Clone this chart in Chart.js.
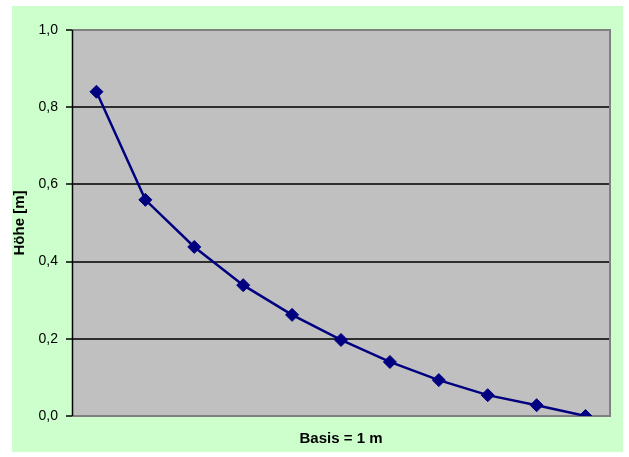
<!DOCTYPE html>
<html>
<head>
<meta charset="utf-8">
<script src="https://cdn.jsdelivr.net/npm/chart.js@4"></script>
<style>
  html, body { margin: 0; padding: 0; background: #ffffff; }
  #wrap { position: relative; width: 629px; height: 457px; }
</style>
</head>
<body>
<div id="wrap"><canvas id="chart" width="629" height="457"></canvas></div>
<script>
// data
const categories = ['', '', '', '', '', '', '', '', '', '', ''];
const heights = [0.84, 0.56, 0.438, 0.339, 0.262, 0.197, 0.14, 0.093, 0.054, 0.028, 0.0];
const yTicks = [0, 0.2, 0.4, 0.6, 0.8, 1.0];

const yTitle = 'Höhe [m]';
const xTitle = 'Basis = 1 m';

// green panel + gray plot area + gray frame
const backdrop = {
    id: 'backdrop',
    beforeDraw(chart) {
        const c = chart.ctx;
        const a = chart.chartArea;
        c.save();
        c.fillStyle = '#ffffff';
        c.fillRect(0, 0, chart.width, chart.height);
        c.fillStyle = '#ccffcc';
        c.fillRect(12, 6, 611, 446);
        c.fillStyle = '#c0c0c0';
        c.fillRect(a.left, a.top, a.right - a.left, a.bottom - a.top);
        c.restore();
    },
    beforeDatasetsDraw(chart) {
        const c = chart.ctx;
        const a = chart.chartArea;
        c.save();
        c.strokeStyle = '#808080';
        c.lineWidth = 2;
        c.beginPath();
        c.moveTo(a.left, a.top);
        c.lineTo(a.right, a.top);
        c.lineTo(a.right, a.bottom);
        c.lineTo(a.left, a.bottom);
        c.stroke();
        c.strokeStyle = '#000000';
        c.lineWidth = 1.5;
        c.beginPath();
        c.moveTo(a.left + 0.5, a.top);
        c.lineTo(a.left + 0.5, a.bottom);
        c.stroke();
        c.restore();
    }
};

const ctx = document.getElementById('chart').getContext('2d');

new Chart(ctx, {
    type: 'line',
    data: {
        labels: categories,
        datasets: [{
            label: 'Höhe',
            data: heights,
            borderColor: '#000080',
            backgroundColor: '#000080',
            borderWidth: 2.5,
            pointStyle: 'rectRot',
            pointRadius: 6.5,
            pointBorderWidth: 1,
            pointBackgroundColor: '#000080',
            pointBorderColor: '#000080',
            tension: 0
        }]
    },
    options: {
        responsive: false,
        animation: false,
        layout: { padding: { left: 0, top: 30, right: 19, bottom: 0 } },
        plugins: {
            legend: { display: false },
            tooltip: { enabled: false }
        },
        scales: {
            x: {
                offset: true,
                grid: { display: false },
                border: { display: false },
                ticks: { display: false },
                title: {
                    display: true,
                    text: xTitle,
                    color: '#000000',
                    font: { family: 'Liberation Sans', size: 15, weight: 'bold' },
                    padding: { top: 0, bottom: 9 }
                },
                afterFit(scale) { scale.width; scale.height = 41; }
            },
            y: {
                min: 0,
                max: 1,
                afterBuildTicks(scale) {
                    scale.ticks = yTicks.map(v => ({ value: v }));
                },
                ticks: {
                    color: '#000000',
                    padding: 8,
                    font: { family: 'Liberation Sans', size: 14 },
                    callback: v => v.toFixed(1).replace('.', ',')
                },
                grid: {
                    color: '#2e2e2e',
                    lineWidth: 2,
                    tickLength: 6,
                    tickColor: '#000000',
                    tickWidth: 1.5
                },
                border: { display: false },
                title: {
                    display: true,
                    text: yTitle,
                    color: '#000000',
                    font: { family: 'Liberation Sans', size: 15, weight: 'bold' },
                    padding: { top: 11, bottom: 0 }
                },
                afterFit(scale) { scale.width = 72; }
            }
        }
    },
    plugins: [backdrop]
});
</script>
</body>
</html>
